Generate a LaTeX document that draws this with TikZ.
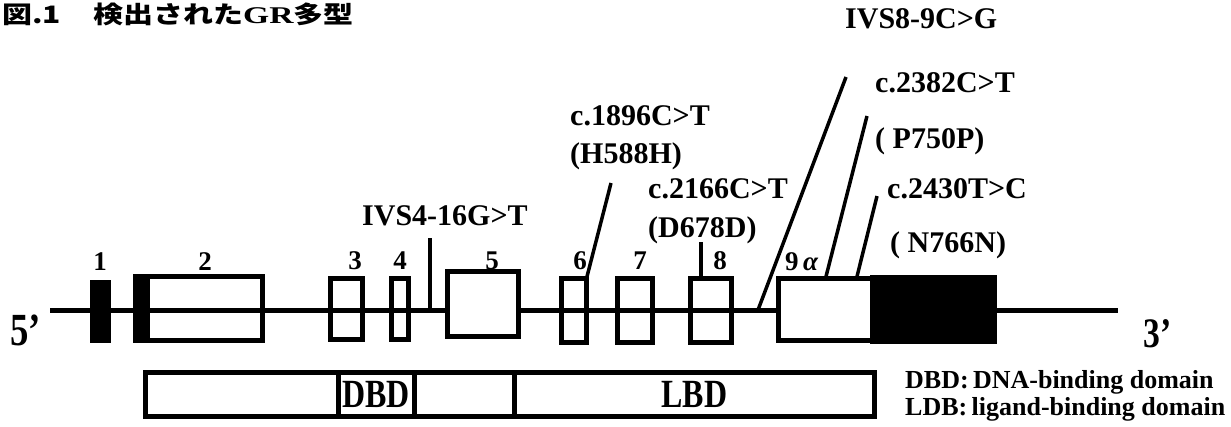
\documentclass[tikz,border=0pt]{standalone}
\usepackage{fontspec}
\usepackage{tikz}
\usetikzlibrary{positioning,calc}
\setmainfont{Liberation Serif}
\newfontfamily\grcond{Liberation Serif}[FakeStretch=0.8]
\newfontfamily\grwide{Liberation Serif}[FakeStretch=1.4]
\newfontfamily\grcjk{Noto Sans CJK JP}[FakeStretch=1.25]
\tikzset{
  grgene/.style={line width=5pt},
  grexon/.style={draw, line width=5pt, inner sep=0pt, outer sep=0pt},
  grblack/.style={grexon, fill=black},
  grwhite/.style={grexon, fill=white},
  grmark/.style={line width=3.5pt},
  grnum/.style={font=\bfseries\fontsize{27}{30}\selectfont, inner sep=0pt, anchor=base},
  grlabel/.style={font=\bfseries\fontsize{30}{34}\selectfont, inner sep=0pt, anchor=base west},
  grdomain/.style={draw, line width=5pt, inner sep=0pt, outer sep=0pt, minimum height=44pt,
    font=\grcond\bfseries\fontsize{40}{44}\selectfont},
  grend/.style={font=\grcond\bfseries\fontsize{46}{50}\selectfont, inner sep=0pt, anchor=base west},
  grnote/.style={font=\bfseries\fontsize{26}{30}\selectfont, inner sep=0pt, anchor=base west},
  grtitle/.style={font=\grcjk\bfseries\fontsize{24}{27}\selectfont, inner sep=0pt, anchor=base west}
}
\begin{document}
\begin{tikzpicture}[x=1pt, y=-1pt]
\path[fill=white, use as bounding box] (0,0) rectangle (1231,426);
\node[grtitle] (fignum) at (2,23) {図.1};
\node[grtitle] (figtitle) at (93,23) {検出された{\grwide GR}多型};
\coordinate (g5) at (50,310);
\coordinate (g3) at (1118,310);
\draw[grgene] (g5) -- (g3);
\node[grblack, minimum width=16pt, minimum height=58pt] (e1) at (100.5,311.5) {};
\node[grexon, minimum width=127pt, minimum height=64pt] (e2) at (199,308.5) {};
\fill ($(e2.north west)+(-2.5,-2.5)$) rectangle ($(e2.south west)+(14.5,2.5)$);
\node[grexon, minimum width=32pt, minimum height=61pt] (e3) at (346.5,309) {};
\node[grexon, minimum width=17pt, minimum height=61pt] (e4) at (400,309) {};
\node[grwhite, minimum width=71pt, minimum height=65pt] (e5) at (483,304) {};
\node[grexon, minimum width=25pt, minimum height=64pt] (e6) at (574,310.5) {};
\node[grexon, minimum width=35pt, minimum height=64pt] (e7) at (635,310.5) {};
\node[grexon, minimum width=41pt, minimum height=64pt] (e8) at (711,310.5) {};
\node[grwhite, minimum width=94pt, minimum height=62pt] (e9) at (825.5,309.5) {};
\node[grblack, minimum width=122pt, minimum height=64pt, anchor=west] (e9u) at (e9.east) {};
\node[grnum] (n1) at (100,270) {1};
\node[grnum] (n2) at (205,270) {2};
\node[grnum] (n3) at (355,269) {3};
\node[grnum] (n4) at (400,269) {4};
\node[grnum] (n5) at (492,269) {5};
\node[grnum] (n6) at (580,269) {6};
\node[grnum] (n7) at (640,269) {7};
\node[grnum] (n8) at (720,269) {8};
\node[grnum, anchor=base west] (n9) at (785,270) {9\,{\itshape α}};
\node[grlabel] (c1896) at (570,125) {c.1896C>T};
\node[grlabel] (h588) at ($(c1896.base west)+(0,38)$) {(H588H)};
\node[grlabel] (c2166) at (648,198) {c.2166C>T};
\node[grlabel] (d678) at ($(c2166.base west)+(0,39)$) {(D678D)};
\node[grlabel] (ivs4) at (362,225) {IVS4-16G>T};
\node[grlabel] (ivs8) at (845,28) {IVS8-9C>G};
\node[grlabel] (c2382) at (875,92) {c.2382C>T};
\node[grlabel] (p750) at ($(c2382.base west)+(0,56)$) {( P750P)};
\node[grlabel] (c2430) at (887,198) {c.2430T>C};
\node[grlabel] (n766) at ($(c2430.base west)+(3,54)$) {( N766N)};
\coordinate (m1896) at (611,183);
\coordinate (m2166) at (701,242);
\coordinate (mivs4) at (430,238);
\coordinate (mivs8) at (846,77);
\coordinate (sivs8) at (758,310);
\coordinate (m2382) at (867,116);
\coordinate (m2430) at (877,196);
\draw[grmark] (m1896) -- (e6.north east);
\draw[grmark] (m2166) -- (m2166 |- e8.north);
\draw[grmark] (mivs4) -- (mivs4 |- g5);
\draw[grmark] (mivs8) -- (sivs8);
\draw[grmark] (m2382) -- (e9.north);
\draw[grmark] (m2430) -- ($(e9.north east)+(-16,0)$);
\node[grend] (p5) at (10,345) {5’};
\node[grend, font=\grcond\bfseries\fontsize{42}{46}\selectfont] (p3) at (1143,347) {3’};
\node[grdomain, minimum width=192.5pt] (d0) at (241.75,394.5) {};
\node[grdomain, minimum width=76pt, right=0pt of d0] (dbd) {DBD};
\node[grdomain, minimum width=100pt, right=0pt of dbd] (d2) {};
\node[grdomain, minimum width=360.5pt, right=0pt of d2] (lbd) {LBD};
\node[grnote] (leg1) at (905,388) {DBD:\,DNA-binding domain};
\node[grnote] (leg2) at ($(leg1.base west)+(0,27)$) {LDB:\,ligand-binding domain};
\end{tikzpicture}
\end{document}
